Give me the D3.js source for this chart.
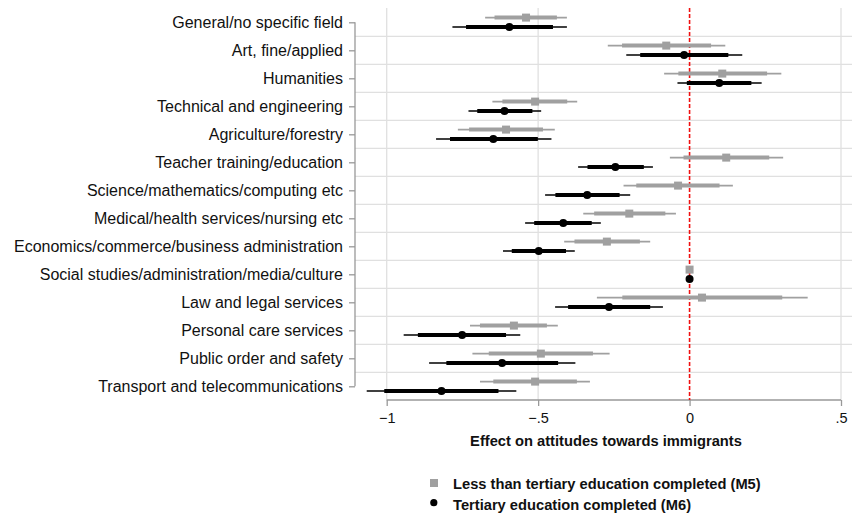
<!DOCTYPE html>
<html><head><meta charset="utf-8">
<script src="https://cdn.jsdelivr.net/npm/d3@7"></script>
<style>body{margin:0;background:#fff}svg{display:block;font-family:"Liberation Sans",Arial,sans-serif}</style>
</head><body><svg id="c" width="852" height="514"></svg>
<script>
const categories = ["General/no specific field","Art, fine/applied","Humanities","Technical and engineering","Agriculture/forestry","Teacher training/education","Science/mathematics/computing etc","Medical/health services/nursing etc","Economics/commerce/business administration","Social studies/administration/media/culture","Law and legal services","Personal care services","Public order and safety","Transport and telecommunications"];
// Less than tertiary (M5): point, 95% CI lo/hi, 90% CI lo/hi
const m5Point = [-0.540,-0.077,0.108,-0.510,-0.606,0.121,-0.038,-0.199,-0.273,0,0.041,-0.580,-0.491,-0.510];
const m5Lo95  = [-0.675,-0.270,-0.084,-0.651,-0.765,-0.065,-0.218,-0.351,-0.414,0,-0.306,-0.725,-0.717,-0.692];
const m5Hi95  = [-0.405,0.118,0.303,-0.371,-0.445,0.309,0.143,-0.045,-0.130,0,0.390,-0.435,-0.264,-0.329];
const m5Lo90  = [-0.644,-0.223,-0.037,-0.618,-0.728,-0.020,-0.176,-0.315,-0.380,0,-0.222,-0.692,-0.663,-0.648];
const m5Hi90  = [-0.438,0.071,0.256,-0.404,-0.484,0.263,0.099,-0.080,-0.164,0,0.306,-0.471,-0.319,-0.372];
// Tertiary (M6)
const m6Point = [-0.595,-0.018,0.098,-0.611,-0.648,-0.245,-0.338,-0.417,-0.498,0,-0.266,-0.751,-0.619,-0.819];
const m6Lo95  = [-0.783,-0.209,-0.040,-0.730,-0.837,-0.368,-0.477,-0.543,-0.616,0,-0.444,-0.944,-0.860,-1.066];
const m6Hi95  = [-0.405,0.174,0.238,-0.490,-0.456,-0.121,-0.196,-0.293,-0.379,0,-0.088,-0.559,-0.377,-0.572];
const m6Lo90  = [-0.738,-0.163,-0.009,-0.701,-0.791,-0.337,-0.443,-0.513,-0.587,0,-0.401,-0.897,-0.803,-1.008];
const m6Hi90  = [-0.451,0.128,0.204,-0.519,-0.501,-0.151,-0.231,-0.323,-0.408,0,-0.130,-0.606,-0.434,-0.631];
const xTicks = [-1,-0.5,0,0.5];
const xTickLabels = ["\u22121","\u2212.5","0",".5"];
const xTitle = "Effect on attitudes towards immigrants";
const legendLabels = ["Less than tertiary education completed (M5)","Tertiary education completed (M6)"];

const svg = d3.select("#c");
const gray = "#a0a0a0", black = "#000";
const x = d3.scaleLinear().domain([-1,0.5]).range([386.7,841]);
const y = d3.scalePoint().domain(categories).range([22.3,386.3]);
const step = y.step();
const plotTop = 8, plotBottom = 400, axisX = 355;

// horizontal gridlines between categories
svg.append("g").selectAll("line").data(categories.slice(1)).join("line")
  .attr("x1",axisX).attr("x2",852)
  .attr("y1",d=>y(d)-step/2).attr("y2",d=>y(d)-step/2)
  .attr("stroke","#e0e0e0").attr("stroke-width",1.3);
// vertical gridlines
svg.append("g").selectAll("line").data(xTicks.filter(t=>t!==0)).join("line")
  .attr("x1",d=>x(d)).attr("x2",d=>x(d)).attr("y1",plotTop).attr("y2",plotBottom)
  .attr("stroke","#e0e0e0").attr("stroke-width",1.3);

// y axis
const yAxis = svg.append("g").attr("transform",`translate(${axisX},0)`)
  .call(d3.axisLeft(y).tickSize(6).tickPadding(6));
yAxis.select(".domain").attr("d",`M0,${y(categories[0])}V${y(categories[categories.length-1])}`).attr("stroke","#999").attr("stroke-width",1.3);
yAxis.selectAll(".tick line").attr("stroke","#999").attr("stroke-width",1.3);
yAxis.selectAll(".tick text").attr("font-size",16).attr("fill","#111").attr("font-family","Liberation Sans, Arial, sans-serif");

// x axis
const xAxis = svg.append("g").attr("transform",`translate(0,${plotBottom})`)
  .call(d3.axisBottom(x).tickValues(xTicks).tickFormat((d,i)=>xTickLabels[i]).tickSize(6).tickPadding(7));
xAxis.select(".domain").attr("d",`M${x(-1)},0H${x(0.5)}`).attr("stroke","#999").attr("stroke-width",1.3);
xAxis.selectAll(".tick line").attr("stroke","#999").attr("stroke-width",1.3);
xAxis.selectAll(".tick text").attr("font-size",14.5).attr("fill","#111").attr("font-family","Liberation Sans, Arial, sans-serif");

// zero line
svg.append("line").attr("x1",x(0)).attr("x2",x(0)).attr("y1",plotTop).attr("y2",plotBottom)
  .attr("stroke","#f01010").attr("stroke-width",1.6).attr("stroke-dasharray","4,2");

function drawSeries(pt, lo95, hi95, lo90, hi90, off, color, shape){
  const g = svg.append("g");
  const idx = d3.range(categories.length);
  g.selectAll(".ci95").data(idx.filter(i=>lo95[i]!==hi95[i])).join("line")
    .attr("x1",i=>x(lo95[i])).attr("x2",i=>x(hi95[i]))
    .attr("y1",i=>y(categories[i])+off).attr("y2",i=>y(categories[i])+off)
    .attr("stroke",color).attr("stroke-width",1.6);
  g.selectAll(".ci90").data(idx.filter(i=>lo90[i]!==hi90[i])).join("line")
    .attr("x1",i=>x(lo90[i])).attr("x2",i=>x(hi90[i]))
    .attr("y1",i=>y(categories[i])+off).attr("y2",i=>y(categories[i])+off)
    .attr("stroke",color).attr("stroke-width",4);
  if(shape==="square"){
    g.selectAll("rect").data(idx).join("rect")
      .attr("x",i=>x(pt[i])-4).attr("y",i=>y(categories[i])+off-4)
      .attr("width",8).attr("height",8).attr("fill",color);
  } else {
    g.selectAll("circle").data(idx).join("circle")
      .attr("cx",i=>x(pt[i])).attr("cy",i=>y(categories[i])+off).attr("r",4).attr("fill",color);
  }
}
drawSeries(m5Point,m5Lo95,m5Hi95,m5Lo90,m5Hi90,-4.7,gray,"square");
drawSeries(m6Point,m6Lo95,m6Hi95,m6Lo90,m6Hi90,4.7,black,"circle");

// x title
svg.append("text").attr("x",606).attr("y",445.5).attr("text-anchor","middle")
  .attr("font-size",14.7).attr("font-weight","bold").attr("fill","#111").text(xTitle);

// legend
const leg = svg.append("g");
leg.append("rect").attr("x",430).attr("y",479).attr("width",8).attr("height",8).attr("fill",gray);
leg.append("circle").attr("cx",433.8).attr("cy",502.7).attr("r",3.6).attr("fill",black);
leg.selectAll("text").data(legendLabels).join("text")
  .attr("x",453).attr("y",(d,i)=>488.7+i*21)
  .attr("font-size",14.7).attr("font-weight","bold").attr("fill","#111").text(d=>d);
</script></body></html>
